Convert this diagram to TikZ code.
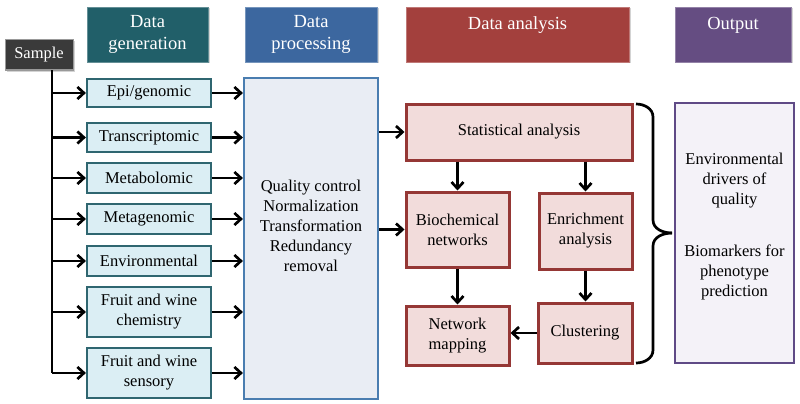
\documentclass[tikz,border=0pt]{standalone}
\usepackage{fontspec}
\setmainfont{Liberation Serif}
\usetikzlibrary{arrows.meta,shadows}
\definecolor{gencol}{HTML}{215F69}
\definecolor{proccol}{HTML}{3C679F}
\definecolor{anacol}{HTML}{A3403D}
\definecolor{outcol}{HTML}{654D82}
\definecolor{samplecol}{HTML}{3A3A3A}
\definecolor{leftfill}{HTML}{DBEEF4}
\definecolor{leftdraw}{HTML}{2F6670}
\definecolor{procfill}{HTML}{E9EDF4}
\definecolor{procdraw}{HTML}{4A7DB0}
\definecolor{anafill}{HTML}{F2DCDB}
\definecolor{anadraw}{HTML}{953735}
\definecolor{outfill}{HTML}{F4F2F8}
\definecolor{outdraw}{HTML}{5F4A86}
\begin{document}
\begin{tikzpicture}[x=1pt,y=-1pt,
  body/.style={font=\fontsize{16.5}{20}\selectfont, align=center, inner sep=0pt},
  header/.style={font=\fontsize{18.5}{22}\selectfont, align=center, text=white, inner sep=0pt,
     minimum height=55pt, drop shadow={shadow xshift=1.5pt,shadow yshift=-1.5pt,opacity=0.35}},
  leftbox/.style={body, draw=leftdraw, fill=leftfill, line width=2.2pt, minimum width=124pt},
  anabox/.style={body, draw=anadraw, fill=anafill, line width=3pt},
  arr/.style={line width=2.7pt, -{Straight Barb[length=6.5pt,width=12pt]}},
  plain/.style={line width=2.7pt}
]
\useasboundingbox (0,0) rectangle (800,404);

% headers
\node[header, fill=samplecol, draw=gray!80, line width=1pt, minimum width=68pt, minimum height=30pt,
      font=\fontsize{16.5}{20}\selectfont] (sample) at (39,55) {Sample};
\node[header, fill=gencol, draw=gencol!70!white, line width=0.8pt, minimum width=121pt] (hgen) at (147.5,34.5) {Data\\generation};
\node[header, fill=proccol, draw=proccol!70!white, line width=0.8pt, minimum width=132pt] (hproc) at (311,34.5) {Data\\processing};
\node[header, fill=anacol, draw=anacol!70!white, line width=0.8pt, minimum width=223pt] (hana) at (517.5,34.5) {Data analysis\\\mbox{}};
\node[header, fill=outcol, draw=outcol!70!white, line width=0.8pt, minimum width=116pt] (hout) at (733,34.5) {Output\\\mbox{}};

% left column
\node[leftbox, minimum height=28pt] (epi) at (149,93) {Epi/genomic};
\node[leftbox, minimum height=29pt] (trans) at (149,137.5) {Transcriptomic};
\node[leftbox, minimum height=30pt] (metab) at (149,178) {Metabolomic};
\node[leftbox, minimum height=30pt] (metag) at (149,219) {Metagenomic};
\node[leftbox, minimum height=30pt] (env) at (149,261) {Environmental};
\node[leftbox, minimum height=50pt] (chem) at (149,312) {Fruit and wine\\chemistry};
\node[leftbox, minimum height=50pt] (sens) at (149,373) {Fruit and wine\\sensory};

% processing
\node[draw=procdraw, fill=procfill, line width=2.2pt, minimum width=134pt, minimum height=321pt, inner sep=0pt] (proc) at (311,238.5) {};
\node[body] (proctext) at (311,226) {Quality control\\Normalization\\Transformation\\Redundancy\\removal};

% analysis
\node[anabox, minimum width=226pt, minimum height=56pt] (stat) at (519,132) {Statistical analysis};
\node[anabox, minimum width=103pt, minimum height=75pt] (bio) at (457.5,229.5) {Biochemical\\networks};
\node[anabox, minimum width=93pt, minimum height=76pt] (enr) at (585.5,231) {Enrichment\\analysis};
\node[anabox, minimum width=103pt, minimum height=59pt] (netmap) at (457.5,335.5) {Network\\mapping};
\node[anabox, minimum width=94pt, minimum height=60pt] (clust) at (585,333) {Clustering};

% output
\node[draw=outdraw, fill=outfill, line width=2.6pt, minimum width=119pt, minimum height=260pt, inner sep=0pt] (out) at (734.5,233) {};
\node[body] (outtext) at (734.5,227) {Environmental\\drivers of\\quality\\[32pt]Biomarkers for\\phenotype\\prediction};

% trunk
\coordinate (t0) at (52,70);
\draw[plain] (t0) -- (t0 |- sens.west);
\foreach \b in {epi,trans,metab,metag,env,chem,sens}{
  \draw[arr] (\b.west -| t0) -- (\b.west);
  \draw[arr] (\b.east) -- (\b.east -| proc.west);
}

% analysis arrows
\draw[arr] (stat.west -| proc.east) -- (stat.west);
\draw[arr] (bio.west -| proc.east) -- (bio.west);
\draw[arr] (stat.south -| bio.north) -- (bio.north);
\draw[arr] (stat.south -| enr.north) -- (enr.north);
\draw[arr] (bio.south) -- (bio.south |- netmap.north);
\draw[arr] (enr.south) -- (enr.south |- clust.north);
\draw[arr] (clust.west) -- (clust.west -| netmap.east);

% brace
\coordinate (btop) at (636,104);
\coordinate (bbot) at (636,363);
\coordinate (btip) at (672,233);
\draw[plain] (btop) to[out=0,in=90] (653,117) -- (653,220) to[out=-90,in=180] (btip);
\draw[plain] (bbot) to[out=0,in=-90] (653,350) -- (653,246) to[out=90,in=180] (btip);
\end{tikzpicture}
\end{document}
